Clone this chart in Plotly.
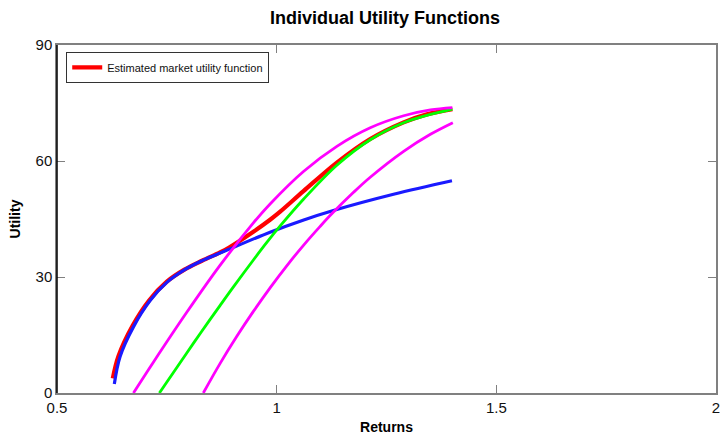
import plotly.graph_objects as go

# Estimated market utility function
market_x = [0.627, 0.640, 0.672, 0.710, 0.750, 0.790, 0.830, 0.870, 0.890, 0.947, 0.985, 1.008, 1.061, 1.137, 1.213, 1.289, 1.340, 1.400]
market_y = [3.8, 9.6, 17.4, 24.0, 28.8, 31.9, 34.2, 36.3, 37.5, 41.7, 44.8, 46.9, 52.2, 59.6, 65.7, 70.0, 72.0, 73.4]

# Individual utility functions
blue_x = [0.6305, 0.6435, 0.674, 0.712, 0.750, 0.788, 0.826, 0.871, 0.890, 0.985, 1.060, 1.129, 1.266, 1.399]
blue_y = [2.3, 9.4, 17.1, 23.9, 28.6, 31.7, 34.0, 36.2, 37.1, 41.6, 44.7, 47.2, 51.4, 54.9]

green_x = [0.733, 0.795, 0.826, 0.871, 0.902, 0.947, 0.978, 1.008, 1.061, 1.137, 1.213, 1.289, 1.400]
green_y = [0.0, 10.3, 15.4, 22.6, 27.5, 34.4, 39.0, 43.2, 50.1, 58.9, 65.5, 69.9, 73.4]

mag1_x = [0.674, 0.719, 0.795, 0.871, 0.947, 0.985, 1.061, 1.137, 1.213, 1.289, 1.350, 1.400]
mag1_y = [0.0, 7.9, 20.8, 33.0, 44.0, 48.9, 57.3, 63.8, 68.6, 71.7, 73.2, 73.8]

mag2_x = [0.833, 0.871, 0.909, 0.947, 0.985, 1.023, 1.061, 1.099, 1.126, 1.175, 1.213, 1.289, 1.350, 1.401]
mag2_y = [0.0, 7.6, 14.6, 21.1, 27.2, 32.9, 38.2, 43.1, 46.4, 51.9, 55.8, 62.5, 66.9, 69.9]

x_ticks = [0.5, 1, 1.5, 2]
y_ticks = [0, 30, 60, 90]

FONT = "Arial, Liberation Sans, sans-serif"
SMOOTH = 1.0

fig = go.Figure()
fig.add_trace(go.Scatter(x=market_x, y=market_y, mode="lines", name="Estimated market utility function",
                         line=dict(color="#ff0000", width=4.2, shape="spline", smoothing=SMOOTH), showlegend=True))
fig.add_trace(go.Scatter(x=blue_x, y=blue_y, mode="lines",
                         line=dict(color="#1a1aff", width=3.2, shape="spline", smoothing=SMOOTH), showlegend=False))
fig.add_trace(go.Scatter(x=green_x, y=green_y, mode="lines",
                         line=dict(color="#00ff00", width=2.8, shape="spline", smoothing=SMOOTH), showlegend=False))
fig.add_trace(go.Scatter(x=mag1_x, y=mag1_y, mode="lines",
                         line=dict(color="#ff00ff", width=2.8, shape="spline", smoothing=SMOOTH), showlegend=False))
fig.add_trace(go.Scatter(x=mag2_x, y=mag2_y, mode="lines",
                         line=dict(color="#ff00ff", width=2.8, shape="spline", smoothing=SMOOTH), showlegend=False))

axis_common = dict(showgrid=False, zeroline=False, showline=True, linecolor="#808080", linewidth=1.5,
                   mirror="ticks", ticks="inside", ticklen=8, tickcolor="#808080", tickwidth=1,
                   automargin=False,
                   tickfont=dict(family=FONT, size=15, color="#111111"))

fig.update_layout(
    width=721, height=435,
    margin=dict(l=57, r=5, t=45, b=42),
    paper_bgcolor="white", plot_bgcolor="white",
    title=dict(text="<b>Individual Utility Functions</b>", x=0.534, xanchor="center", y=0.96, yanchor="middle",
               font=dict(family=FONT, size=18, color="#000000")),
    xaxis=dict(range=[0.5, 2], tickvals=x_ticks, ticktext=[str(v) for v in x_ticks],
               title=dict(text="<b>Returns</b>", standoff=8,
                          font=dict(family=FONT, size=14, color="#000000")),
               **axis_common),
    yaxis=dict(range=[0, 90], tickvals=y_ticks,
               title=dict(text="<b>Utility</b>", standoff=12,
                          font=dict(family=FONT, size=14, color="#000000")),
               **axis_common),
    legend=dict(x=0.014, y=0.98, xanchor="left", yanchor="top", bgcolor="white",
                bordercolor="#333333", borderwidth=1,
                font=dict(family=FONT, size=11, color="#111111")),
    shapes=[dict(type="line", xref="paper", yref="paper", x0=0, x1=0, y0=0, y1=1,
                 line=dict(color="#000000", width=1.5))],
)

fig.write_html("out.html")
